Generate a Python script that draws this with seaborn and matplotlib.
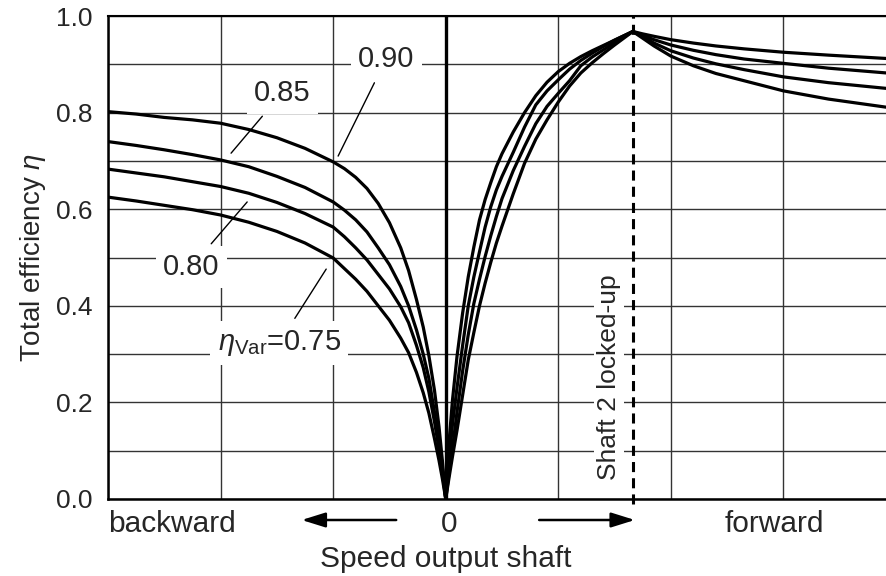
import numpy as np
import pandas as pd
import matplotlib
matplotlib.use("Agg")
import matplotlib.pyplot as plt
import matplotlib.transforms as mtransforms
import seaborn as sns

# speed of output shaft in grid units (0 = standstill, <0 backward, >0 forward)
speed_back = [-3.0, -2.75, -2.5, -2.25, -2.0, -1.75, -1.5, -1.25, -1.0, -0.9, -0.8, -0.7,
              -0.6, -0.5, -0.4, -0.33, -0.26, -0.2, -0.15, -0.1, -0.06, -0.03]
speed_fwd = [0.0, 0.03, 0.06, 0.1, 0.15, 0.2, 0.25, 0.3, 0.35, 0.4, 0.45, 0.5, 0.6, 0.7,
             0.8, 0.9, 1.0, 1.1, 1.2, 1.3, 1.4, 1.5]
speed_fall = [1.662, 1.75, 1.85, 2.0, 2.2, 2.4, 2.65, 3.0, 3.4, 3.92]

# total efficiency, for eta_Var = 0.90 / 0.85 / 0.80 / 0.75
back_090 = [0.802, 0.797, 0.790, 0.785, 0.778, 0.765, 0.748, 0.726, 0.698, 0.684, 0.666,
            0.643, 0.612, 0.572, 0.520, 0.473, 0.413, 0.356, 0.297, 0.225, 0.150, 0.080]
back_085 = [0.740, 0.732, 0.723, 0.713, 0.702, 0.688, 0.668, 0.645, 0.615, 0.598, 0.578,
            0.553, 0.520, 0.485, 0.440, 0.400, 0.350, 0.300, 0.250, 0.180, 0.120, 0.065]
back_080 = [0.683, 0.675, 0.667, 0.657, 0.647, 0.633, 0.614, 0.591, 0.563, 0.543, 0.520,
            0.495, 0.465, 0.435, 0.398, 0.365, 0.318, 0.272, 0.222, 0.160, 0.103, 0.055]
back_075 = [0.625, 0.617, 0.608, 0.599, 0.588, 0.573, 0.554, 0.530, 0.499, 0.477, 0.455,
            0.430, 0.400, 0.370, 0.333, 0.303, 0.262, 0.220, 0.178, 0.125, 0.080, 0.042]

fwd_090 = [0.0, 0.120, 0.205, 0.295, 0.385, 0.460, 0.522, 0.578, 0.620, 0.655, 0.688, 0.715,
           0.760, 0.800, 0.835, 0.863, 0.885, 0.902, 0.916, 0.928, 0.939, 0.950]
fwd_085 = [0.0, 0.078, 0.155, 0.230, 0.318, 0.400, 0.460, 0.512, 0.563, 0.605, 0.640, 0.668,
           0.718, 0.770, 0.816, 0.845, 0.868, 0.890, 0.908, 0.923, 0.937, 0.950]
fwd_080 = [0.0, 0.055, 0.105, 0.180, 0.265, 0.340, 0.405, 0.455, 0.502, 0.545, 0.585, 0.622,
           0.680, 0.730, 0.777, 0.813, 0.840, 0.866, 0.897, 0.915, 0.930, 0.945]
fwd_075 = [0.0, 0.045, 0.088, 0.142, 0.215, 0.288, 0.345, 0.400, 0.447, 0.490, 0.530, 0.565,
           0.632, 0.695, 0.745, 0.785, 0.822, 0.855, 0.882, 0.903, 0.922, 0.940]

fall_090 = [0.968, 0.963, 0.958, 0.951, 0.944, 0.938, 0.932, 0.925, 0.919, 0.912]
fall_085 = [0.968, 0.960, 0.951, 0.940, 0.929, 0.920, 0.911, 0.902, 0.892, 0.882]
fall_080 = [0.968, 0.957, 0.944, 0.928, 0.913, 0.901, 0.889, 0.874, 0.862, 0.850]
fall_075 = [0.968, 0.954, 0.938, 0.917, 0.897, 0.881, 0.866, 0.845, 0.828, 0.811]

eta_var = ["0.90", "0.85", "0.80", "0.75"]
lock_speed = 1.662  # shaft 2 locked-up

speed_all = speed_back + speed_fwd + speed_fall
frames = []
for v, b, f, d in zip(eta_var,
                      [back_090, back_085, back_080, back_075],
                      [fwd_090, fwd_085, fwd_080, fwd_075],
                      [fall_090, fall_085, fall_080, fall_075]):
    frames.append(pd.DataFrame({"speed": speed_all, "eta": b + f + d, "eta_var": v}))
df = pd.concat(frames)

sns.set_style("white")
plt.rcParams["font.family"] = ["Liberation Sans", "DejaVu Sans"]
plt.rcParams["mathtext.fontset"] = "custom"
plt.rcParams["mathtext.rm"] = "Liberation Sans"
plt.rcParams["mathtext.it"] = "Liberation Sans:italic"

fig = plt.figure(figsize=(8.87, 5.76), dpi=100)
ax = fig.add_axes([0.1218, 0.1337, 0.8782, 0.8385])

ax.set_axisbelow(True)
sns.lineplot(data=df, x="speed", y="eta", hue="eta_var", palette=["black"] * 4,
             estimator=None, linewidth=2.3, legend=False, ax=ax, zorder=4)

ax.set_xlim(-3.0, 3.92)
ax.set_ylim(0, 1.0)
ax.set_xticks(range(-3, 4))
ax.set_xticklabels([])
ax.set_yticks(np.arange(0, 1.01, 0.2))
ax.set_yticks(np.arange(0.1, 1.0, 0.2), minor=True)
ax.set_yticklabels([f"{v:.1f}" for v in np.arange(0, 1.01, 0.2)], fontsize=19)
ax.tick_params(length=0, which="both", pad=11)
ax.grid(True, which="both", color="#333333", lw=1.0)
ax.set_xlabel("")
ax.set_ylabel(r"Total efficiency $\eta$", fontsize=20, labelpad=6)

for side in ["top", "left", "bottom"]:
    ax.spines[side].set_color("black")
ax.spines["top"].set_linewidth(1.5)
ax.spines["left"].set_linewidth(1.8)
ax.spines["bottom"].set_linewidth(1.8)
ax.spines["right"].set_visible(False)

ax.axvline(0, color="black", lw=2.4, zorder=3)
ax.axvline(lock_speed, ymin=-0.01, ymax=1.0, color="black", lw=2.2,
           ls=(0, (3.3, 2.0)), clip_on=False, zorder=3)

# curve labels with leader lines
labels = [
    ("0.90", (-0.956, 0.71), (-0.529, 0.911)),
    ("0.85", (-1.907, 0.716), (-1.453, 0.841)),
    ("0.80", (-1.764, 0.615), (-2.262, 0.480)),
    (r"$\eta_{\mathrm{Var}}$=0.75", (-1.062, 0.476), (-1.48, 0.323)),
]
for txt, xy, xyt in labels:
    ax.annotate(txt, xy=xy, xytext=xyt, fontsize=21, ha="center", va="center",
                bbox=dict(boxstyle="square,pad=0.25", fc="white", ec="none"),
                arrowprops=dict(arrowstyle="-", color="black", lw=1.0,
                                shrinkA=2, shrinkB=0),
                zorder=3)

ax.text(1.45, 0.253, "Shaft 2 locked-up", rotation=90, fontsize=19,
        ha="center", va="center",
        bbox=dict(boxstyle="square,pad=0.12", fc="white", ec="none"), zorder=3)

trans = mtransforms.blended_transform_factory(ax.transData, ax.transAxes)
ax.text(-3.0, -0.068, "backward", transform=trans, fontsize=21.5, ha="left", va="baseline")
ax.text(0.03, -0.068, "0", transform=trans, fontsize=21.5, ha="center", va="baseline")
ax.text(2.92, -0.068, "forward", transform=trans, fontsize=21.5, ha="center", va="baseline")
ax.text(0.0, -0.141, "Speed output shaft", transform=trans, fontsize=21.5,
        ha="center", va="baseline")
arrow_kw = dict(arrowstyle="-|>,head_length=0.8,head_width=0.25", color="black",
                lw=1.8, mutation_scale=18, shrinkA=0, shrinkB=0)
ax.annotate("", xy=(-1.28, -0.0435), xytext=(-0.44, -0.0435), xycoords=trans,
            textcoords=trans, arrowprops=arrow_kw, annotation_clip=False)
ax.annotate("", xy=(1.68, -0.0435), xytext=(0.83, -0.0435), xycoords=trans,
            textcoords=trans, arrowprops=arrow_kw, annotation_clip=False)

fig.savefig("out.png", dpi=100)
